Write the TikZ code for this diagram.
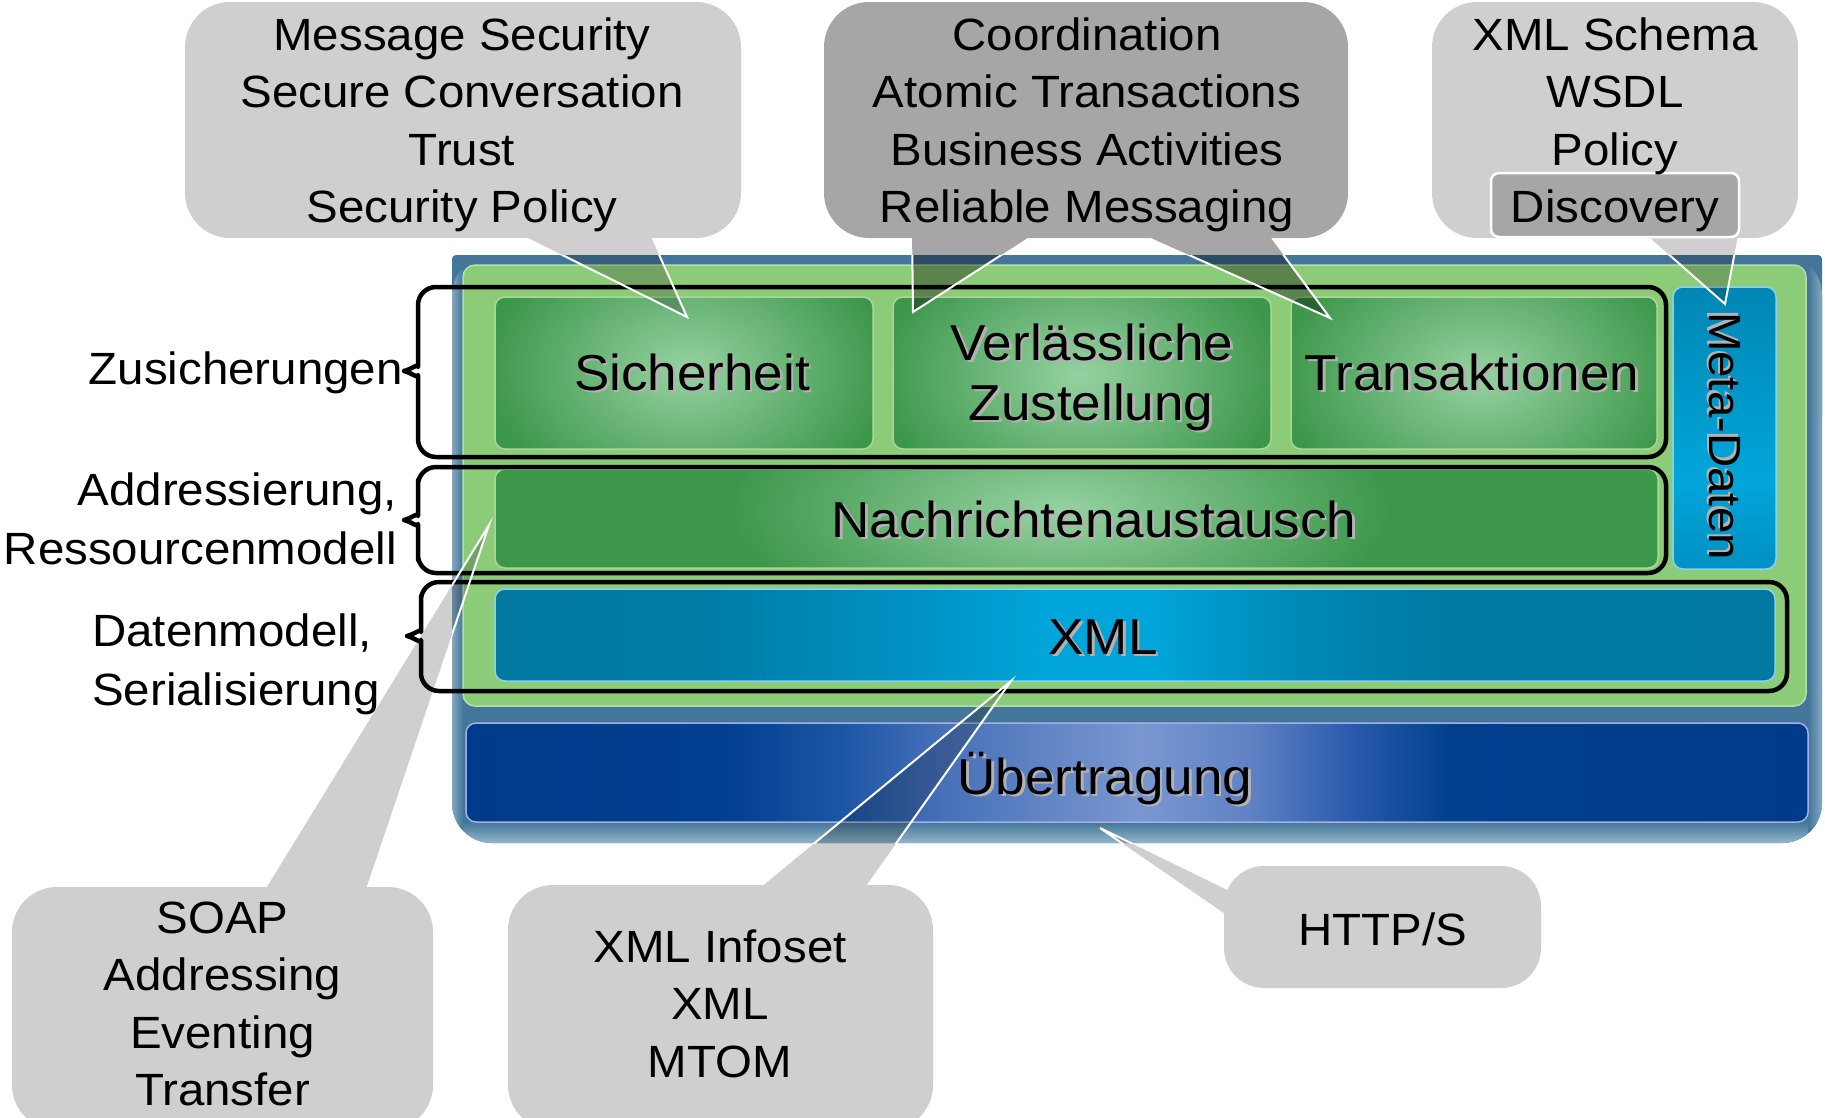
\documentclass[tikz,border=0pt]{standalone}
\usepackage{fontspec}
\setmainfont{Liberation Sans}[FakeStretch=1.05]

% frame and panel colours
\definecolor{frameblue}{HTML}{43769A}
\definecolor{frameedge}{HTML}{93B5CA}
\definecolor{panelgreen}{HTML}{8CCB77}
\definecolor{panelrim}{HTML}{B6E0A6}
% layer colours
\definecolor{boxgreen}{HTML}{3D974B}
\definecolor{boxglow}{HTML}{96D2A2}
\definecolor{boxrim}{HTML}{A8D898}
\definecolor{cyanrim}{HTML}{86D2F2}
\definecolor{navyrim}{HTML}{A6AEE6}
% transport layer gradient stops
\definecolor{ubA}{HTML}{003B8B}
\definecolor{ubB}{HTML}{003E8F}
\definecolor{ubC}{HTML}{1C55A6}
\definecolor{ubD}{HTML}{4670B8}
\definecolor{ubE}{HTML}{7A97D0}
\definecolor{ubF}{HTML}{5F82C4}
\definecolor{ubG}{HTML}{2A5AAD}
\definecolor{ubH}{HTML}{00408F}
% XML layer gradient stops
\definecolor{xmA}{HTML}{0078A0}
\definecolor{xmB}{HTML}{007CA5}
\definecolor{xmC}{HTML}{0090C2}
\definecolor{xmD}{HTML}{00A6DA}
\definecolor{xmE}{HTML}{0088B5}
\definecolor{xmF}{HTML}{007AA2}
% metadata column gradient stops
\definecolor{mtA}{HTML}{0086B4}
\definecolor{mtB}{HTML}{00A6DA}
\definecolor{mtC}{HTML}{0090C2}

% green layer box with a soft glow in the middle
\newcommand\greenbox[8]{%
  \fill[boxgreen,rounded corners=10pt] (#1,#2) rectangle (#3,#4);
  \begin{scope}
    \clip[rounded corners=10pt] (#1,#2) rectangle (#3,#4);
    \shade[inner color=boxglow,outer color=boxgreen] (#5,#6) ellipse [x radius=#7pt,y radius=#8pt];
  \end{scope}
  \draw[boxrim,line width=1.5pt,rounded corners=10pt] (#1,#2) rectangle (#3,#4);
}
% piecewise horizontal gradient between y #1 and #2
\newcommand\hstrips[3]{%
  \foreach \xa/\ca/\xb/\cb in {#3}{%
    \shade[left color=\ca,right color=\cb] (\xa,#1) rectangle ({\xb+1},#2);}
}
% bracket: left x, top, right, bottom, tip y
\newcommand\bracket[5]{%
  \draw[grp] (#1-14,#5) .. controls (#1-6,#5+2) and (#1,#5+8) .. (#1,#5+22)
    -- (#1,#4) -- (#3,#4) -- (#3,#2) -- (#1,#2) -- (#1,#5-22)
    .. controls (#1,#5-8) and (#1-6,#5-2) .. (#1-14,#5);
}

\begin{document}
\begin{tikzpicture}[x=1pt,y=-1pt,
  callout/.style={fill=black,fill opacity=0.19},
  calloutdark/.style={fill=black,fill opacity=0.35},
  tipedge/.style={draw=white,line width=2pt,line join=miter},
  grp/.style={draw=black,line width=4.5pt,line cap=round,line join=round,rounded corners=18pt},
  ctext/.style={font=\fontsize{45.2}{54}\selectfont,anchor=base,inner sep=0pt},
  ltext/.style={font=\fontsize{50.5}{60}\selectfont,anchor=base,inner sep=0pt},
  lshadow/.style={ltext,text=black!30},
  mshadow/.style={ctext,text=black!30}]
\useasboundingbox (0,0) rectangle (1825,1117);

% ---- outer frame ----
\fill[frameblue,rounded corners=40pt] (452,255) rectangle (1822,843);
\fill[frameblue,rounded corners=4pt] (452,255) rectangle (1822,420);
\begin{scope}
  \clip[rounded corners=40pt] (452,255) rectangle (1822,843);
  \shade[top color=frameblue,bottom color=frameedge] (452,822) rectangle (1822,843);
  \shade[left color=frameedge!80!frameblue,right color=frameblue] (452,262) rectangle (463,843);
  \shade[left color=frameblue,right color=frameedge!80!frameblue] (1808,262) rectangle (1822,843);
\end{scope}

% ---- green panel ----
\filldraw[fill=panelgreen,draw=panelrim,line width=1.5pt,rounded corners=12pt] (463,265) rectangle (1806,706);

% ---- layers ----
\greenbox{495}{297}{873}{449}{687}{370}{200}{140}
\greenbox{893}{297}{1271}{449}{1080}{375}{200}{140}
\greenbox{1291}{297}{1657}{449}{1480}{375}{200}{140}
\greenbox{495}{469}{1658}{568}{1060}{510}{330}{130}

% metadata column
\begin{scope}
  \clip[rounded corners=10pt] (1673,287) rectangle (1776,569);
  \shade[top color=mtA,bottom color=mtB] (1673,287) rectangle (1776,481);
  \shade[top color=mtB,bottom color=mtC] (1673,480) rectangle (1776,569);
\end{scope}
\draw[cyanrim,line width=1.5pt,rounded corners=10pt] (1673,287) rectangle (1776,569);

% XML layer
\begin{scope}
  \clip[rounded corners=10pt] (495,589) rectangle (1775,681);
  \hstrips{589}{681}{495/xmA/700/xmB, 700/xmB/900/xmC, 900/xmC/1050/xmD, 1050/xmD/1150/xmD,
    1150/xmD/1300/xmE, 1300/xmE/1450/xmF, 1450/xmF/1775/xmA}
\end{scope}
\draw[cyanrim,line width=1.5pt,rounded corners=10pt] (495,589) rectangle (1775,681);

% transport layer
\begin{scope}
  \clip[rounded corners=10pt] (466,723) rectangle (1808,822);
  \hstrips{723}{822}{466/ubA/720/ubB, 720/ubB/840/ubC, 840/ubC/940/ubD, 940/ubD/1140/ubE,
    1140/ubE/1250/ubF, 1250/ubF/1350/ubG, 1350/ubG/1450/ubH, 1450/ubH/1808/ubA}
\end{scope}
\draw[navyrim,line width=1.5pt,rounded corners=10pt] (466,723) rectangle (1808,822);

% ---- braces grouping the layers ----
\bracket{418}{287}{1666}{457}{371}
\bracket{418}{467}{1666}{573}{520}
\bracket{421}{582}{1787}{691}{636}

% ---- callouts ----
\fill[callout] (512,230) -- (687,317) -- (648,230) -- cycle
  [rounded corners=45pt] (185,2) rectangle (741,238);
\fill[calloutdark] (912,230) -- (913,312) -- (1040,230) -- cycle
  (1133,230) -- (1330,318) -- (1265,230) -- cycle
  [rounded corners=45pt] (824,2) rectangle (1348,238);
\fill[callout] (1641,230) -- (1725,304) -- (1739,230) -- cycle
  [rounded corners=45pt] (1432,2) rectangle (1798,238);
\fill[callout] (364,895) -- (489,525) -- (262,895) -- cycle
  [rounded corners=45pt] (12,887) rectangle (433,1130);
\fill[callout] (861,893) -- (1011,681) -- (754,893) -- cycle
  [rounded corners=45pt] (508,885) rectangle (933,1130);
\fill[callout] (1250,901) -- (1100,828) -- (1250,931) -- cycle
  [rounded corners=40pt] (1224,866) rectangle (1541,988);

% white rims of the pointers where they cross the frame
\begin{scope}
  \clip (452,255) rectangle (1822,843);
  \draw[tipedge] (512,230) -- (687,317) -- (648,230);
  \draw[tipedge] (912,230) -- (913,312) -- (1040,230);
  \draw[tipedge] (1133,230) -- (1330,318) -- (1265,230);
  \draw[tipedge] (1641,230) -- (1725,304) -- (1739,230);
  \draw[tipedge] (262,895) -- (489,525) -- (364,895);
  \draw[tipedge] (754,893) -- (1011,681) -- (861,893);
  \draw[tipedge] (1250,931) -- (1100,828) -- (1250,901);
\end{scope}

% discovery highlight
\filldraw[fill=black,fill opacity=0.2,draw=white,line width=2.5pt,rounded corners=8pt]
  (1491,173) rectangle (1739,237);

% ---- callout texts ----
\node[ctext] (ms1) at (462,50) {Message Security};
\node[ctext] (ms2) at (462,107.5) {Secure Conversation};
\node[ctext] (ms3) at (462,165) {Trust};
\node[ctext] (ms4) at (462,222.5) {Security Policy};

\node[ctext] (co1) at (1087,50) {Coordination};
\node[ctext] (co2) at (1087,107.5) {Atomic Transactions};
\node[ctext] (co3) at (1087,165) {Business Activities};
\node[ctext] (co4) at (1087,222.5) {Reliable Messaging};

\node[ctext] (md1) at (1615,50) {XML Schema};
\node[ctext] (md2) at (1615,107.5) {WSDL};
\node[ctext] (md3) at (1615,165) {Policy};
\node[ctext] (md4) at (1615,222.5) {Discovery};

\node[ctext] (so1) at (222.5,933) {SOAP};
\node[ctext] (so2) at (222.5,990.5) {Addressing};
\node[ctext] (so3) at (222.5,1048) {Eventing};
\node[ctext] (so4) at (222.5,1105.5) {Transfer};

\node[ctext] (xi1) at (720,962) {XML Infoset};
\node[ctext] (xi2) at (720,1019.5) {XML};
\node[ctext] (xi3) at (720,1077) {MTOM};

\node[ctext] (http) at (1383,945) {HTTP/S};

% ---- labels left of the braces ----
\node[ctext,anchor=base east] (zus) at (403,384) {Zusicherungen};
\node[ctext,anchor=base east] (adr1) at (397,505) {Addressierung,};
\node[ctext,anchor=base east] (adr2) at (397,564) {Ressourcenmodell};
\node[ctext,anchor=base west] (dat1) at (92,646) {Datenmodell,};
\node[ctext,anchor=base west] (dat2) at (92,705) {Serialisierung};

% ---- layer names with drop shadow ----
\node[lshadow,xshift=2.5pt,yshift=-2.5pt] at (692,390) {Sicherheit};
\node[ltext] (sich) at (692,390) {Sicherheit};
\node[lshadow,xshift=2.5pt,yshift=-2.5pt] at (1092,360) {Verlässliche};
\node[ltext] (verl) at (1092,360) {Verlässliche};
\node[lshadow,xshift=2.5pt,yshift=-2.5pt] at (1091,420) {Zustellung};
\node[ltext] (zust) at (1091,420) {Zustellung};
\node[lshadow,xshift=2.5pt,yshift=-2.5pt] at (1472,390) {Transaktionen};
\node[ltext] (trans) at (1472,390) {Transaktionen};
\node[lshadow,xshift=2.5pt,yshift=-2.5pt] at (1094,537) {Nachrichtenaustausch};
\node[ltext] (nach) at (1094,537) {Nachrichtenaustausch};
\node[lshadow,xshift=2.5pt,yshift=-2.5pt] at (1103,654) {XML};
\node[ltext] (xml) at (1103,654) {XML};
\node[lshadow,xshift=2.5pt,yshift=-2.5pt] at (1105,794) {Übertragung};
\node[ltext] (ueb) at (1105,794) {Übertragung};
\node[mshadow,anchor=center,rotate=-90,xshift=-2.5pt,yshift=-2.5pt] at (1725,436) {Meta-Daten};
\node[ctext,anchor=center,rotate=-90] (meta) at (1725,436) {Meta-Daten};
\end{tikzpicture}
\end{document}
